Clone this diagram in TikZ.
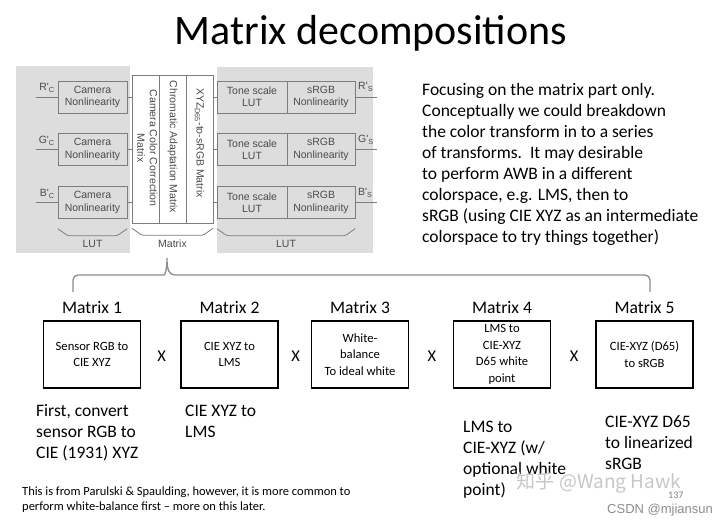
\documentclass[tikz,border=0pt]{standalone}
\usepackage{fontspec}
\setmainfont{Carlito}
\newfontfamily\figfont{Liberation Sans}
\newfontfamily\cjkfont{Noto Sans CJK SC}
\usetikzlibrary{positioning,calc}

\definecolor{panelgray}{RGB}{221,221,221}
\definecolor{figline}{RGB}{125,125,125}
\definecolor{figtext}{RGB}{75,75,75}
\definecolor{bracegray}{RGB}{140,140,140}
\newcommand\figsize{\figfont\fontsize{10.5}{12.5}\selectfont}

\begin{document}
\begin{tikzpicture}[x=1pt,y=-1pt,
    panel/.style={fill=panelgray},
    figbox/.style={draw=figline,fill=panelgray,align=center,inner sep=0pt,minimum height=32pt,font=\figsize,text=figtext},
    camera/.style={figbox,minimum width=69pt},
    tonebox/.style={figbox,minimum width=70pt},
    srgbbox/.style={figbox,minimum width=68pt},
    matcol/.style={draw=figline,fill=white,minimum width=27pt,minimum height=148pt,inner sep=0pt},
    coltext/.style={rotate=-90,align=center,font=\figsize,text=figtext,inner sep=0pt},
    figlabel/.style={font=\figsize,text=figtext,inner sep=0pt},
    wire/.style={figline,line width=0.8pt},
    figbrace/.style={figline,line width=0.8pt,rounded corners=1.5pt},
    mbox/.style={draw,line width=1.4pt,minimum width=97pt,minimum height=67pt,inner sep=0pt,align=center,font=\fontsize{12.6}{16.6}\selectfont},
    mlabel/.style={anchor=base,font=\fontsize{17.6}{21}\selectfont,inner sep=0pt},
    times/.style={font=\fontsize{16.5}{20}\selectfont,inner sep=0pt},
    desc/.style={anchor=north west,align=left,inner sep=0pt,font=\fontsize{17.5}{21}\selectfont},
    bigbrace/.style={bracegray,line width=1.3pt}
  ]
    \useasboundingbox[fill=white] (0,0) rectangle (728,526);

    \node[font=\fontsize{42}{50}\selectfont,anchor=base,inner sep=0pt] (title) at (371,45) {Matrix decompositions};

    % Parulski & Spaulding figure
    \fill[panel] (16,66) rectangle (130,253);
    \fill[panel] (217,67) rectangle (373,253);

    \node[camera] (rcam) at (92.5,97) {Camera\\Nonlinearity};
    \node[camera] (gcam) at (92.5,149.5) {Camera\\Nonlinearity};
    \node[camera] (bcam) at (92.5,202.5) {Camera\\Nonlinearity};

    \node[matcol] (mcc) at (145.5,149) {};
    \node[matcol] (mca) at (172.5,149) {};
    \node[matcol] (mxs) at (199.5,149) {};
    \node[coltext] (mcctext) at (147.5,148) {Camera Color Correction\\Matrix};
    \node[coltext] (mcatext) at (172.5,147) {Chromatic Adaptation Matrix};
    \node[coltext] (mxstext) at (199.5,143) {XYZ\textsubscript{D65}-to-sRGB Matrix};

    \node[tonebox] (rtone) at (252,97) {Tone scale\\LUT};
    \node[srgbbox] (rsrgb) at (321,97) {sRGB\\Nonlinearity};
    \node[tonebox] (gtone) at (252,149.5) {Tone scale\\LUT};
    \node[srgbbox] (gsrgb) at (321,149.5) {sRGB\\Nonlinearity};
    \node[tonebox] (btone) at (252,202.5) {Tone scale\\LUT};
    \node[srgbbox] (bsrgb) at (321,202.5) {sRGB\\Nonlinearity};

    \coordinate (rin) at (36,97);
    \coordinate (gin) at (36,149.5);
    \coordinate (bin) at (36,202.5);
    \coordinate (rout) at (377,97);
    \coordinate (gout) at (377,149.5);
    \coordinate (bout) at (377,202.5);

    \node[figlabel,anchor=base east] (rclbl) at (55,91) {R'\textsubscript{C}};
    \node[figlabel,anchor=base east] (gclbl) at (55,143.5) {G'\textsubscript{C}};
    \node[figlabel,anchor=base east] (bclbl) at (55,196.5) {B'\textsubscript{C}};
    \node[figlabel,anchor=base west] (rslbl) at (358,90) {R'\textsubscript{S}};
    \node[figlabel,anchor=base west] (gslbl) at (358,142.5) {G'\textsubscript{S}};
    \node[figlabel,anchor=base west] (bslbl) at (358,195.5) {B'\textsubscript{S}};

    \draw[wire] (rin) -- (rcam);
    \draw[wire] (gin) -- (gcam);
    \draw[wire] (bin) -- (bcam);
    \draw[wire] (rcam) -- (rcam -| mcc.west);
    \draw[wire] (gcam) -- (gcam -| mcc.west);
    \draw[wire] (bcam) -- (bcam -| mcc.west);
    \draw[wire] (rtone -| mxs.east) -- (rtone);
    \draw[wire] (gtone -| mxs.east) -- (gtone);
    \draw[wire] (btone -| mxs.east) -- (btone);
    \draw[wire] (rsrgb) -- (rout);
    \draw[wire] (gsrgb) -- (gout);
    \draw[wire] (bsrgb) -- (bout);

    \draw[figbrace] ($(bcam.south west)+(0,10)$) -- ++(10,7) -- ($(bcam.south east)+(-10,17)$) -- ++(10,-7);
    \draw[figbrace] ($(mcc.south west)+(0,5)$) -- ++(10,7) -- ($(mxs.south east)+(-10,12)$) -- ++(10,-7);
    \draw[figbrace] ($(btone.south west)+(0,10)$) -- ++(10,7) -- ($(bsrgb.south east)+(-10,17)$) -- ++(10,-7);
    \node[figlabel] (lutleft) at (92.5,244) {LUT};
    \node[figlabel] (matlbl) at (172.5,244) {Matrix};
    \node[figlabel] (lutright) at (286,244) {LUT};

    \node[desc] (focus) at (422,82.8) {Focusing on the matrix part only.\\Conceptually we could breakdown\\the color transform in to a series\\of transforms.\ \ It may desirable\\to perform AWB in a different\\colorspace, e.g. LMS, then to\\sRGB (using CIE XYZ as an intermediate\\colorspace to try things together)};

    % the five matrices
    \node[mbox] (m1) at (92,354.5) {Sensor RGB to\\CIE XYZ};
    \node[mbox] (m2) at (229.5,354.5) {CIE XYZ to\\LMS};
    \node[mbox] (m3) at (360,354.5) {White-\\balance\\To ideal white};
    \node[mbox] (m4) at (502,354.5) {LMS to\\CIE-XYZ\\D65 white\\point};
    \node[mbox] (m5) at (644.5,354.5) {CIE-XYZ (D65)\\to sRGB};
    \foreach \i in {1,...,5}
      \node[mlabel] (m\i lbl) at ($(m\i.north)+(0,-7)$) {Matrix \i};
    \foreach \a/\b in {1/2,2/3,3/4,4/5}
      \node[times] (x\a) at ($(m\a.east)!.5!(m\b.west)+(1,2)$) {X};

    \coordinate (braceleft) at (73,292);
    \coordinate (braceright) at (650,292);
    \coordinate (tip) at (167,258);
    \draw[bigbrace,rounded corners=5pt] (braceleft) |- ($(tip)+(-8,17)$) [sharp corners]
      .. controls ($(tip)+(-2,17)$) and ($(tip)+(0,12)$) .. (tip)
      .. controls ($(tip)+(0,12)$) and ($(tip)+(2,17)$) .. ($(tip)+(8,17)$)
      [rounded corners=5pt] -| (braceright);

    \node[desc] (d1) at (36,404.5) {First, convert\\sensor RGB to\\CIE (1931) XYZ};
    \node[desc] (d2) at (185,404.7) {CIE XYZ to\\LMS};
    \node[desc] (d4) at (463,420.7) {LMS to\\CIE-XYZ (w/\\optional white\\point)};
    \node[desc] (d5) at (605,415.7) {CIE-XYZ D65\\to linearized\\sRGB};

    \node[desc,font=\fontsize{12.5}{15}\selectfont] (note) at (22,486.3) {This is from Parulski \& Spaulding, however, it is more common to\\perform white-balance first -- more on this later.};

    \node[font=\cjkfont\fontsize{19}{19}\selectfont,text=black!22,inner sep=0pt] (wmark) at (599,483) {知乎 @Wang Hawk};
    \node[anchor=base west,font=\fontsize{10}{10}\selectfont,text=black!50,inner sep=0pt] (pageno) at (668,498) {137};
    \node[anchor=base west,font=\figfont\fontsize{13}{13}\selectfont,text=black!45,inner sep=0pt] (csdn) at (607,513) {CSDN @mjiansun};
\end{tikzpicture}
\end{document}
